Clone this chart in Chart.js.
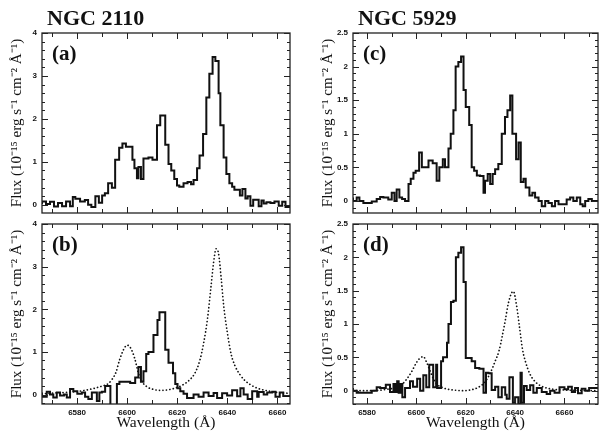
<!DOCTYPE html>
<html>
<head>
<meta charset="utf-8">
<script src="https://cdn.jsdelivr.net/npm/chart.js@4"></script>
<style>
  body { margin: 0; background: #fff; }
  #wrap { position: relative; width: 600px; height: 440px; }
  canvas { position: absolute; left: 0; top: 0; }
</style>
</head>
<body>
<div id="wrap">
  <canvas id="panelA" width="600" height="440"></canvas>
  <canvas id="panelB" width="600" height="440"></canvas>
  <canvas id="panelC" width="600" height="440"></canvas>
  <canvas id="panelD" width="600" height="440"></canvas>
</div>
<script>
// NGC 2110 (a): observed spectrum, step edges in Angstrom
const waveA = [6566.0, 6567.6, 6569.2, 6570.8, 6572.4, 6574.0, 6575.6, 6577.2, 6578.3, 6579.3,
  6581.2, 6583.1, 6584.4, 6585.7, 6587.3, 6588.7, 6590.0, 6591.1, 6592.4, 6593.9,
  6595.2, 6596.8, 6598.1, 6599.5, 6602.1, 6602.9, 6603.9, 6604.5, 6605.5, 6606.5,
  6608.5, 6610.1, 6611.9, 6613.2, 6615.2, 6616.5, 6617.6, 6618.8, 6619.9, 6620.8,
  6622.5, 6624.1, 6625.5, 6626.5, 6627.9, 6628.9, 6630.3, 6631.6, 6632.8, 6634.1,
  6635.2, 6636.5, 6637.2, 6638.5, 6639.6, 6640.8, 6641.9, 6642.8, 6645.0, 6646.0,
  6647.2, 6648.1, 6649.2, 6650.3, 6652.5, 6653.6, 6654.5, 6655.6, 6657.2, 6658.8,
  6660.5, 6661.9, 6663.2, 6664.1, 6665.0];
const fluxA = [0.02, 0.08, 0.02, 0.07, -0.04, 0.04, -0.03, 0.08, -0.03, 0.18,
  0.14, 0.08, 0.11, 0.0, -0.05, 0.2, 0.05, 0.22, 0.27, 0.5,
  0.4, 1.05, 1.33, 1.43, 1.35, 1.05, 0.85, 0.62, 0.88, 0.6,
  1.08, 1.1, 1.05, 1.85, 2.08, 1.4, 0.95, 0.8, 0.6, 0.45,
  0.42, 0.5, 0.53, 0.48, 0.58, 0.85, 1.15, 1.65, 2.5, 3.05,
  3.44, 3.35, 2.6, 1.85, 1.1, 0.72, 0.5, 0.42, 0.35, 0.22,
  0.37, 0.15, 0.2, -0.02, 0.12, -0.03, 0.1, 0.03, 0.06, 0.04,
  0.08, -0.02, 0.07, -0.05, -0.05];

// NGC 2110 (b): residual spectrum
const waveB = [6566.0, 6567.9, 6569.2, 6570.5, 6571.9, 6573.2, 6574.8, 6575.9, 6577.2, 6578.5,
  6580.1, 6581.9, 6583.2, 6584.5, 6585.9, 6587.9, 6588.9, 6589.9, 6591.2, 6593.3,
  6595.9, 6596.9, 6601.2, 6603.2, 6604.5, 6605.5, 6606.5, 6607.6, 6608.5, 6610.5,
  6612.1, 6612.9, 6615.2, 6616.5, 6618.3, 6619.2, 6620.1, 6621.2, 6622.5, 6623.9,
  6626.5, 6628.5, 6630.5, 6632.5, 6634.5, 6635.9, 6637.9, 6639.9, 6641.9, 6643.9,
  6645.2, 6646.5, 6648.1, 6649.9, 6651.9, 6652.5, 6654.5, 6655.9, 6657.9, 6659.2,
  6660.9, 6662.3, 6663.9, 6665.0];
const fluxB = [0.05, -0.05, 0.07, 0.0, -0.07, 0.05, -0.02, 0.0, -0.07, 0.13,
  0.08, 0.02, 0.05, -0.05, -0.1, 0.05, -0.15, 0.05, 0.07, 0.2,
  -0.3, 0.25, 0.3, 0.27, 0.4, 0.65, 0.3, 0.55, 0.95, 1.0,
  1.4, 1.75, 1.93, 1.05, 0.75, 0.5, 0.25, 0.15, 0.08, 0.02,
  -0.08, 0.0, -0.05, 0.05, -0.03, 0.04, -0.08, 0.03, -0.02, 0.1,
  -0.04, 0.15, 0.0, -0.1, 0.08, -0.05, 0.06, 0.0, 0.05, 0.07,
  -0.05, 0.05, -0.03, -0.03];

// NGC 2110 (b): model profiles (dotted)
const modelWaveB = [6566, 6572, 6578, 6584, 6587, 6590, 6592.5, 6594, 6595.5, 6597,
  6598.5, 6600, 6601.5, 6603, 6604.5, 6606, 6608, 6610, 6613, 6616,
  6619, 6622, 6625, 6627, 6629, 6630.5, 6632, 6633.5, 6634.5, 6635.5,
  6636.5, 6637.5, 6638.5, 6640, 6641.5, 6643, 6645, 6647, 6649, 6652,
  6656, 6660, 6665];
const modelFluxB = [0.02, 0.04, 0.06, 0.11, 0.15, 0.2, 0.26, 0.36, 0.52, 0.82,
  1.05, 1.16, 1.08, 0.85, 0.5, 0.3, 0.18, 0.13, 0.1, 0.11,
  0.15, 0.22, 0.35, 0.5, 0.8, 1.2, 1.75, 2.55, 3.1, 3.42,
  3.3, 2.75, 2.1, 1.45, 0.95, 0.68, 0.47, 0.33, 0.24, 0.15,
  0.09, 0.05, 0.03];

// NGC 5929 (c): observed spectrum
const waveC = [6574.3, 6575.8, 6576.9, 6578.5, 6581.9, 6583.9, 6585.3, 6586.6, 6588.6, 6590.0,
  6591.1, 6592.0, 6593.1, 6594.2, 6595.4, 6596.8, 6597.7, 6598.8, 6599.7, 6601.1,
  6602.2, 6603.5, 6604.9, 6606.6, 6608.2, 6609.3, 6610.7, 6611.6, 6613.0, 6613.9,
  6615.0, 6615.9, 6617.0, 6618.1, 6619.1, 6620.0, 6621.4, 6622.4, 6623.4, 6624.5,
  6625.8, 6627.2, 6627.8, 6628.9, 6629.9, 6630.9, 6631.9, 6633.2, 6634.6, 6635.9,
  6636.9, 6638.0, 6638.9, 6640.4, 6641.4, 6642.3, 6643.4, 6644.3, 6645.8, 6647.0,
  6648.1, 6649.5, 6650.8, 6652.2, 6653.5, 6654.9, 6656.2, 6657.6, 6658.5, 6659.6,
  6660.9, 6662.3, 6663.6, 6665.0, 6666.4, 6667.4, 6668.4, 6669.7, 6671.1, 6672.4,
  6673.6];
const fluxC = [0.05, 0.0, 0.05, 0.0, -0.03, -0.01, 0.03, 0.06, 0.05, 0.02,
  0.12, 0.0, 0.17, 0.05, 0.03, 0.0, 0.25, 0.33, 0.42, 0.45,
  0.72, 0.5, 0.5, 0.6, 0.56, 0.3, 0.5, 0.62, 0.5, 0.78,
  1.0, 1.35, 2.0, 2.07, 2.15, 1.65, 1.4, 1.13, 0.5, 0.45,
  0.38, 0.37, 0.12, 0.3, 0.4, 0.25, 0.4, 0.47, 0.55, 1.0,
  1.25, 1.35, 1.57, 1.0, 0.62, 0.87, 0.28, 0.33, 0.2, 0.08,
  0.12, 0.05, 0.0, -0.08, 0.0, -0.03, -0.08, 0.0, -0.05, -0.05,
  -0.05, 0.02, 0.05, 0.0, 0.05, -0.05, -0.08, 0.0, 0.03, 0.0,
  0.0];

// NGC 5929 (d): residual spectrum
const waveD = [6574.3, 6575.8, 6581.9, 6583.9, 6585.3, 6587.6, 6589.3, 6590.7, 6591.4, 6592.2,
  6592.8, 6593.6, 6594.3, 6595.4, 6597.4, 6598.6, 6600.3, 6601.5, 6602.8, 6604.0,
  6605.2, 6606.8, 6608.0, 6608.4, 6610.0, 6610.8, 6612.4, 6613.0, 6614.0, 6615.0,
  6616.0, 6617.0, 6618.1, 6619.1, 6620.0, 6622.4, 6623.8, 6625.5, 6627.2, 6628.2,
  6629.2, 6630.5, 6631.9, 6633.2, 6634.6, 6636.0, 6636.6, 6637.7, 6639.1, 6640.0,
  6641.3, 6642.2, 6642.7, 6643.6, 6644.7, 6646.1, 6647.4, 6648.8, 6650.8, 6652.8,
  6654.2, 6656.0, 6658.0, 6660.0, 6661.5, 6663.0, 6664.3, 6665.5, 6667.0, 6668.5,
  6670.0, 6671.5, 6673.6];
const fluxD = [0.04, 0.0, -0.03, 0.0, 0.05, 0.04, 0.09, -0.02, 0.1, -0.02,
  0.14, -0.03, 0.1, -0.1, 0.04, 0.14, 0.06, 0.18, 0.0, 0.23,
  0.05, 0.39, 0.05, 0.39, 0.04, 0.44, 0.5, 0.72, 1.0, 1.33,
  1.35, 2.0, 2.07, 2.15, 1.63, 0.49, 0.44, 0.34, 0.33, -0.03,
  0.27, 0.26, 0.01, 0.06, -0.1, 0.05, -0.06, -0.12, 0.2, -0.18,
  -0.1, -0.2, 0.27, -0.18, 0.07, 0.01, 0.08, -0.03, 0.04, -0.02,
  -0.05, 0.0, -0.03, 0.05, 0.02, 0.06, -0.02, 0.04, -0.04, 0.03,
  0.0, 0.04, 0.04];

// NGC 5929 (d): model profiles (dotted)
const modelWaveD = [6574.3, 6582, 6588, 6592, 6594, 6596, 6598, 6600, 6601.5, 6602.8,
  6604.2, 6605.5, 6607, 6608.5, 6611, 6615, 6619, 6623, 6626, 6628,
  6630, 6632, 6633.5, 6634.8, 6636, 6637.2, 6638.5, 6639.3, 6640.5, 6641.8,
  6643, 6644.5, 6646, 6648, 6650, 6654, 6660, 6673.6];
const modelFluxD = [0.0, 0.0, 0.02, 0.05, 0.09, 0.17, 0.28, 0.42, 0.49, 0.51,
  0.42, 0.3, 0.17, 0.09, 0.04, 0.01, 0.0, 0.02, 0.07, 0.14,
  0.27, 0.45, 0.6, 0.82, 1.05, 1.3, 1.46, 1.49, 1.3, 0.95,
  0.62, 0.4, 0.25, 0.14, 0.08, 0.03, 0.01, 0.0];

const xTicksLabels = [6580, 6600, 6620, 6640, 6660];
const yTicks2110 = [0, 1, 2, 3, 4];
const yTicks5929 = [0, 0.5, 1, 1.5, 2, 2.5];

const yTitle = 'Flux (10\u207B\u00B9\u2075 erg s\u207B\u00B9 cm\u207B\u00B2 \u00C5\u207B\u00B9)';
const xTitle = 'Wavelength (\u00C5)';

Chart.defaults.font.family = '"Liberation Sans", Arial, sans-serif';
Chart.defaults.color = '#111';

const toPoints = (xs, ys) => xs.map((x, i) => ({ x: x, y: ys[i] }));

// inward ticks on all four sides plus the frame
const frameTicks = {
  id: 'frameTicks',
  afterDraw(chart, args, opts) {
    const { ctx, chartArea: a, scales: { x, y } } = chart;
    ctx.save();
    ctx.strokeStyle = '#222';
    ctx.lineWidth = 1;
    ctx.beginPath();
    const n0 = Math.ceil(x.min / opts.xMinor);
    const n1 = Math.floor(x.max / opts.xMinor);
    for (let n = n0; n <= n1; n++) {
      const v = n * opts.xMinor;
      const len = (Math.round(v) % opts.xMajor === 0) ? 6 : 4;
      const px = Math.round(x.getPixelForValue(v)) + 0.5;
      ctx.moveTo(px, a.bottom); ctx.lineTo(px, a.bottom - len);
      ctx.moveTo(px, a.top); ctx.lineTo(px, a.top + len);
    }
    const m0 = Math.ceil(y.min / opts.yMinor - 1e-6);
    const m1 = Math.floor(y.max / opts.yMinor + 1e-6);
    const per = Math.round(opts.yMajor / opts.yMinor);
    for (let m = m0; m <= m1; m++) {
      const v = m * opts.yMinor;
      const len = (m % per === 0) ? 6 : 3;
      const py = Math.round(y.getPixelForValue(v)) + 0.5;
      ctx.moveTo(a.left, py); ctx.lineTo(a.left + len, py);
      ctx.moveTo(a.right, py); ctx.lineTo(a.right - len, py);
    }
    ctx.stroke();
    ctx.lineWidth = 1.3;
    ctx.strokeRect(a.left, a.top, a.right - a.left, a.bottom - a.top);
    ctx.restore();
  }
};

// galaxy name above the panel and the panel letter inside it
const panelText = {
  id: 'panelText',
  afterDraw(chart, args, opts) {
    const { ctx, chartArea: a } = chart;
    ctx.save();
    ctx.fillStyle = '#111';
    ctx.textBaseline = 'alphabetic';
    if (opts.title) {
      ctx.font = 'bold 22px "Liberation Serif"';
      ctx.fillText(opts.title, a.left + 5, a.top - 8);
    }
    ctx.font = 'bold 21px "Liberation Serif"';
    ctx.fillText(opts.label, a.left + 10, a.top + 27);
    ctx.restore();
  }
};

function makePanel(id, o) {
  const datasets = [{
    data: toPoints(o.wave, o.flux),
    stepped: 'after',
    borderColor: '#111',
    borderWidth: 2,
    pointRadius: 0,
    fill: false
  }];
  if (o.modelWave) {
    datasets.push({
      data: toPoints(o.modelWave, o.modelFlux),
      borderColor: '#111',
      borderWidth: 1.7,
      borderDash: [0.1, 3.4],
      borderCapStyle: 'round',
      cubicInterpolationMode: 'monotone',
      pointRadius: 0,
      fill: false
    });
  }
  const yTickList = o.yTicks;
  new Chart(document.getElementById(id), {
    type: 'line',
    data: { datasets },
    options: {
      responsive: false,
      animation: false,
      events: [],
      layout: { padding: o.padding },
      scales: {
        x: {
          type: 'linear',
          min: o.xMin,
          max: o.xMax,
          afterFit: (s) => { s.height = o.bottomAxis ? 36 : 5; },
          grid: { display: false, drawTicks: false },
          border: { display: false },
          ticks: {
            display: o.bottomAxis,
            stepSize: 20,
            includeBounds: false,
            autoSkip: false,
            maxRotation: 0,
            padding: 4,
            font: { size: 8, weight: 'bold' },
            callback: (v) => (xTicksLabels.includes(v) ? String(v) : '')
          },
          title: {
            display: o.bottomAxis,
            text: xTitle,
            font: { family: '"Liberation Serif"', size: 15.5 },
            padding: { top: 0, bottom: 8 }
          }
        },
        y: {
          min: o.yMin,
          max: o.yMax,
          afterFit: (s) => { s.width = 42; },
          grid: { display: false, drawTicks: false },
          border: { display: false },
          ticks: {
            stepSize: o.yStep,
            includeBounds: false,
            autoSkip: false,
            padding: 5,
            font: { size: 8, weight: 'bold' },
            callback: (v) => {
              const hit = yTickList.find((t) => Math.abs(t - v) < 1e-6);
              return hit === undefined ? '' : String(hit);
            }
          },
          title: {
            display: true,
            text: yTitle,
            font: { family: '"Liberation Serif"', size: 15 },
            padding: { top: 8, bottom: 0 }
          }
        }
      },
      plugins: {
        legend: { display: false },
        tooltip: { enabled: false },
        frameTicks: o.ticks,
        panelText: { title: o.title, label: o.label }
      }
    },
    plugins: [frameTicks, panelText]
  });
}

const ticks2110 = { xMinor: 10, xMajor: 20, yMinor: 0.2, yMajor: 1 };
const ticks5929 = { xMinor: 10, xMajor: 20, yMinor: 0.1, yMajor: 0.5 };

makePanel('panelA', {
  wave: waveA, flux: fluxA,
  xMin: 6566, xMax: 6665, yMin: -0.19, yMax: 4, yStep: 1, yTicks: yTicks2110,
  padding: { left: 0, top: 33, right: 310, bottom: 222 },
  bottomAxis: false, ticks: ticks2110, title: 'NGC 2110', label: '(a)'
});
makePanel('panelB', {
  wave: waveB, flux: fluxB, modelWave: modelWaveB, modelFlux: modelFluxB,
  xMin: 6566, xMax: 6665, yMin: -0.22, yMax: 4, yStep: 1, yTicks: yTicks2110,
  padding: { left: 0, top: 224, right: 310, bottom: 0 },
  bottomAxis: true, ticks: ticks2110, title: '', label: '(b)'
});
makePanel('panelC', {
  wave: waveC, flux: fluxC,
  xMin: 6574.3, xMax: 6673.6, yMin: -0.18, yMax: 2.5, yStep: 0.5, yTicks: yTicks5929,
  padding: { left: 311, top: 33, right: 2, bottom: 222 },
  bottomAxis: false, ticks: ticks5929, title: 'NGC 5929', label: '(c)'
});
makePanel('panelD', {
  wave: waveD, flux: fluxD, modelWave: modelWaveD, modelFlux: modelFluxD,
  xMin: 6574.3, xMax: 6673.6, yMin: -0.2, yMax: 2.5, yStep: 0.5, yTicks: yTicks5929,
  padding: { left: 311, top: 224, right: 2, bottom: 0 },
  bottomAxis: true, ticks: ticks5929, title: '', label: '(d)'
});
</script>
</body>
</html>
